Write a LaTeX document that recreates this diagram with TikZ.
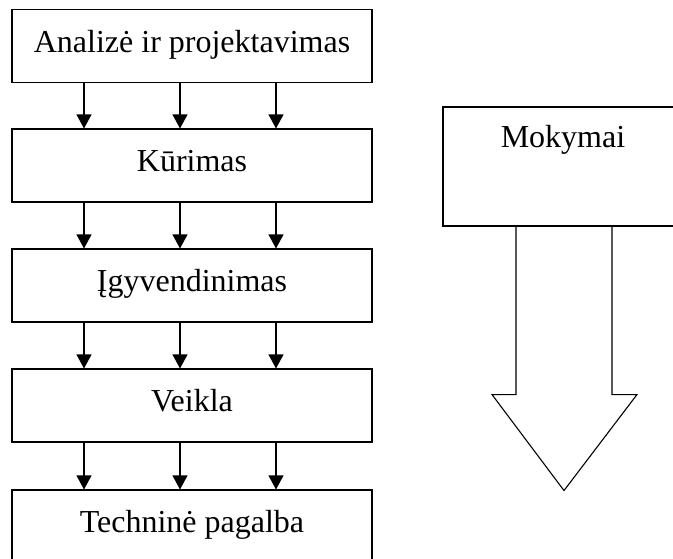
\documentclass[tikz,border=0pt]{standalone}
\usepackage{fontspec}
\setmainfont{Liberation Serif}
\usetikzlibrary{arrows.meta}
\begin{document}
\begin{tikzpicture}[x=1pt,y=-1pt,
  line width=1.1pt,
  stagebox/.style={draw, rectangle, minimum width=360pt, minimum height=73pt,
    inner sep=0pt, text height=20pt, text depth=8pt,
    font=\fontsize{32}{38}\selectfont},
  flow/.style={-{Triangle[width=15pt,length=14pt]}},
  label/.style={inner sep=0pt, text height=20pt, text depth=8pt,
    font=\fontsize{32}{38}\selectfont}]
\useasboundingbox (0,0) rectangle (673,558);
\clip (0,0) rectangle (673,558);

% life-cycle stages
\node[stagebox] (b1) at (192,46)    {Analizė ir projektavimas};
\node[stagebox] (b2) at (192,165.5) {Kūrimas};
\node[stagebox] (b3) at (192,285.5) {Įgyvendinimas};
\node[stagebox] (b4) at (192,405.5) {Veikla};
\node[stagebox, minimum height=80pt, text depth=16pt] (b5) at (192,530) {Techninė pagalba};

% three arrows between every pair of stages
\foreach \a/\b in {b1/b2,b2/b3,b3/b4,b4/b5}{
  \foreach \dx in {-108,-12,84}{
    \draw[flow] ([xshift=\dx pt]\a.south) -- ([xshift=\dx pt]\b.north);
  }
}

% training box with its block arrow
\node[draw, rectangle, minimum width=240pt, minimum height=119pt, inner sep=0pt]
  (mok) at (563,166.5) {};
\node[label, anchor=north] (mokt) at ([yshift=-20pt]mok.north) {Mokymai};
\draw ([xshift=-47pt]mok.south) -- ++(0,168) -- ++(-24,0)
  -- ++(72,96) coordinate (tip) -- ++(73,-96) -- ++(-25,0)
  -- ([xshift=49pt]mok.south);
\end{tikzpicture}
\end{document}
